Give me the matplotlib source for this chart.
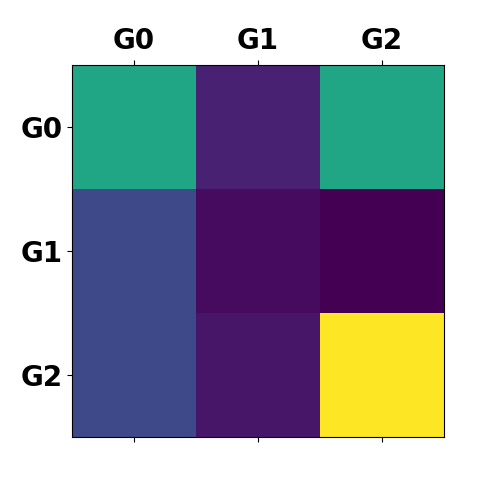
import numpy as np
import matplotlib
matplotlib.use("Agg")
import matplotlib.pyplot as plt

# group labels and matrix values (viridis scale)
groups = ["G0", "G1", "G2"]
row_g0 = [0.59, 0.09, 0.59]
row_g1 = [0.22, 0.03, 0.00]
row_g2 = [0.22, 0.06, 1.00]

matriz = np.array([row_g0, row_g1, row_g2])

fig = plt.figure(figsize=(4.8, 4.8), dpi=100)
ax = fig.add_axes([0.15, 0.0896, 0.775, 0.775])
ax.imshow(matriz, cmap="viridis", vmin=0, vmax=1, aspect="auto")

ax.set_xticks(range(len(groups)))
ax.set_yticks(range(len(groups)))
ax.set_xticklabels(groups, fontsize=20, fontweight="bold")
ax.set_yticklabels(groups, fontsize=20, fontweight="bold")
ax.tick_params(top=True, labeltop=True, bottom=True, labelbottom=False)

fig.savefig("out.png", dpi=100)
